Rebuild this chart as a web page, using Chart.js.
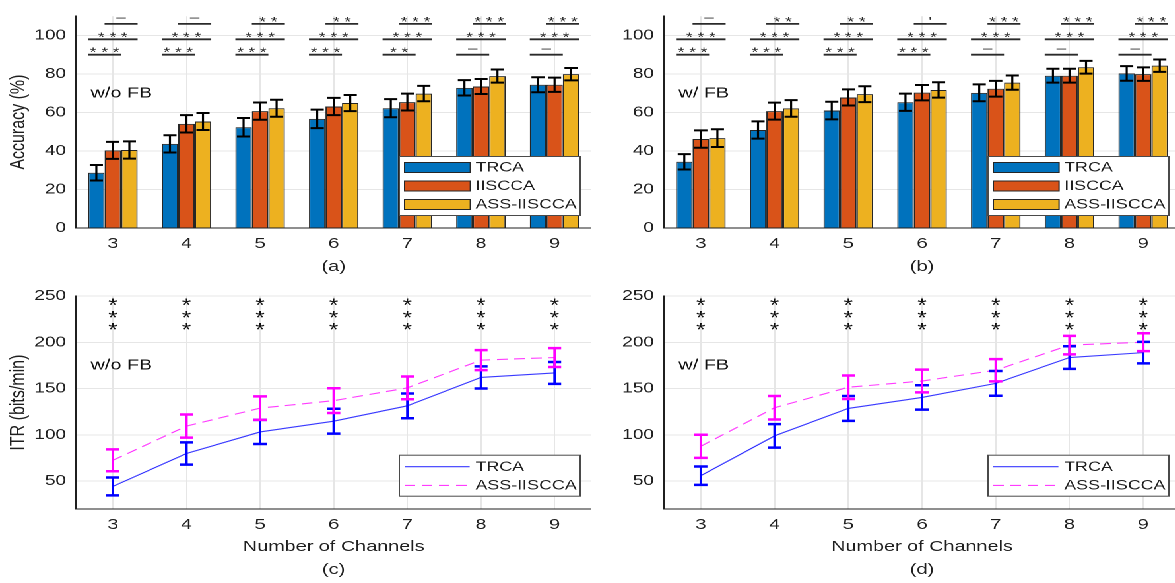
<!DOCTYPE html>
<html><head><meta charset="utf-8">
<script src="https://cdn.jsdelivr.net/npm/chart.js@4.4.1/dist/chart.umd.min.js"></script>
<style>
html,body{margin:0;padding:0;background:#fff;overflow:hidden;width:1175px;height:583px;}
#stage{position:absolute;left:0;top:0;width:900px;height:583px;transform:scaleX(1.32);transform-origin:0 0;}
canvas{position:absolute;display:block;}
</style></head><body>
<div id="stage">
  <canvas id="ca" width="448" height="280" style="left:0;top:0;width:448px;height:280px"></canvas>
  <canvas id="cb" width="446" height="280" style="left:448px;top:0;width:446px;height:280px"></canvas>
  <canvas id="cc" width="448" height="303" style="left:0;top:280px;width:448px;height:303px"></canvas>
  <canvas id="cd" width="446" height="303" style="left:448px;top:280px;width:446px;height:303px"></canvas>
</div>
<script>
// ---------------- data ----------------
const channels = ['3','4','5','6','7','8','9'];
const accTicks = [0,20,40,60,80,100];
const itrTicks = [50,100,150,200,250];

// (a) accuracy, w/o FB
const accTRCA_noFB   = [28.7, 43.7, 52.3, 56.7, 62.2, 72.8, 74.4];
const accIISCCA_noFB = [40.3, 54.1, 60.7, 63.1, 65.4, 73.5, 74.4];
const accASS_noFB    = [40.5, 55.3, 62.2, 64.9, 69.8, 78.9, 79.9];
const errTRCA_noFB   = [4.0, 4.5, 4.8, 4.8, 4.7, 4.0, 3.9];
const errIISCCA_noFB = [4.4, 4.5, 4.5, 4.5, 4.4, 3.9, 3.7];
const errASS_noFB    = [4.5, 4.4, 4.4, 4.2, 4.0, 3.4, 3.2];
const sigA_TRCA_IISCCA = ['***','***','***','***','**','–','–'];
const sigA_TRCA_ASS    = ['***','***','***','***','***','***','***'];
const sigA_IISCCA_ASS  = ['–','–','**','**','***','***','***'];

// (b) accuracy, w/ FB
const accTRCA_FB   = [34.4, 50.9, 61.0, 65.3, 70.2, 79.1, 80.3];
const accIISCCA_FB = [46.2, 60.7, 67.8, 70.3, 72.3, 79.1, 79.9];
const accASS_FB    = [46.7, 62.1, 69.5, 71.7, 75.5, 83.5, 84.3];
const errTRCA_FB   = [4.0, 4.5, 4.6, 4.5, 4.4, 3.6, 3.8];
const errIISCCA_FB = [4.5, 4.4, 4.2, 4.0, 4.1, 3.6, 3.5];
const errASS_FB    = [4.6, 4.3, 4.1, 4.0, 3.7, 3.3, 3.2];
const sigB_TRCA_IISCCA = ['***','***','***','***','–','–','–'];
const sigB_TRCA_ASS    = ['***','***','***','***','***','***','***'];
const sigB_IISCCA_ASS  = ['–','**','**',"'",'***','***','***'];

// (c) ITR, w/o FB
const itrTRCA_noFB    = [44.4, 80.0, 103.3, 114.9, 131.5, 162.2, 167.1];
const itrASS_noFB     = [72.6, 109.6, 129.0, 137.1, 150.9, 180.9, 183.7];
const itrErrTRCA_noFB = [9.7, 12.0, 13.0, 13.4, 13.4, 12.0, 11.8];
const itrErrASS_noFB  = [11.8, 12.5, 12.7, 13.4, 12.3, 10.8, 10.2];
const itrSig_noFB     = ['***','***','***','***','***','***','***'];

// (d) ITR, w/ FB
const itrTRCA_FB    = [56.0, 99.0, 128.7, 140.6, 155.8, 183.7, 189.0];
const itrASS_FB     = [87.8, 129.4, 151.6, 158.3, 170.0, 197.1, 200.3];
const itrErrTRCA_FB = [9.9, 12.7, 13.4, 13.2, 13.4, 12.2, 11.6];
const itrErrASS_FB  = [12.5, 12.7, 12.7, 12.3, 12.0, 10.0, 9.7];
const itrSig_FB     = ['***','***','***','***','***','***','***'];

// ---------------- style ----------------
const INK = '#1f1f1f';
const GRID = '#e6e6e6';
const colTRCA = '#0072BD', colIIS = '#D95319', colASS = '#EDB120';
Chart.defaults.font.family = "'Liberation Sans', Arial, Helvetica, sans-serif";
Chart.defaults.color = INK;

// ---------------- plugins ----------------
function errorBarPlugin(cap, stemW, capW) {
  return { id:'errorBars', afterDatasetsDraw(chart) {
    const ctx = chart.ctx, ys = chart.scales.y;
    chart.data.datasets.forEach((ds, i) => {
      if (!ds.errors) return;
      const meta = chart.getDatasetMeta(i);
      ctx.save();
      ctx.strokeStyle = ds.errorColor || '#000';
      meta.data.forEach((el, j) => {
        const v = ds.data[j], e = ds.errors[j];
        const x = el.x, yt = ys.getPixelForValue(v + e), yb = ys.getPixelForValue(v - e);
        ctx.lineWidth = stemW;
        ctx.beginPath(); ctx.moveTo(x, yt); ctx.lineTo(x, yb); ctx.stroke();
        ctx.lineWidth = capW;
        ctx.beginPath();
        ctx.moveTo(x - cap, yt); ctx.lineTo(x + cap, yt);
        ctx.moveTo(x - cap, yb); ctx.lineTo(x + cap, yb);
        ctx.stroke();
      });
      ctx.restore();
    });
  }};
}

function sigPlugin(rows) {
  return { id:'sig', afterDatasetsDraw(chart) {
    const ctx = chart.ctx, ys = chart.scales.y;
    ctx.save();
    rows.forEach(row => {
      const ma = chart.getDatasetMeta(row.from), mb = chart.getDatasetMeta(row.to);
      const py = ys.getPixelForValue(row.level);
      row.labels.forEach((lab, j) => {
        const a = ma.data[j], b = mb.data[j];
        const x1 = a.x - a.width / 2, x2 = b.x + b.width / 2;
        ctx.strokeStyle = '#2a2a2a'; ctx.lineWidth = 1.8;
        ctx.beginPath(); ctx.moveTo(x1, py); ctx.lineTo(x2, py); ctx.stroke();
        ctx.fillStyle = '#2a2a2a';
        ctx.font = "13px 'Liberation Sans', Arial, sans-serif";
        ctx.textAlign = 'center'; ctx.textBaseline = 'alphabetic';
        const txt = lab.split('').join(' ');
        const base = (lab === '–') ? py - 2.2 : py + 2;
        ctx.fillText(txt, (x1 + x2) / 2, base);
      });
    });
    ctx.restore();
  }};
}

function starPlugin(labels, levels) {
  return { id:'stars', afterDatasetsDraw(chart) {
    const ctx = chart.ctx, xs = chart.scales.x, ys = chart.scales.y;
    ctx.save();
    ctx.fillStyle = '#111';
    ctx.font = "18px 'Liberation Sans', Arial, sans-serif";
    ctx.textAlign = 'center'; ctx.textBaseline = 'alphabetic';
    labels.forEach((lab, j) => {
      const x = xs.getPixelForValue(j);
      lab.split('').forEach((ch, k) => {
        ctx.fillText(ch, x, ys.getPixelForValue(levels[k]) + 10.5);
      });
    });
    ctx.restore();
  }};
}

function tagPlugin(text, dx, value) {
  return { id:'tag', afterDatasetsDraw(chart) {
    const ctx = chart.ctx, a = chart.chartArea, ys = chart.scales.y;
    ctx.save();
    ctx.fillStyle = '#111';
    ctx.font = "15px 'Liberation Sans', Arial, sans-serif";
    ctx.textAlign = 'left'; ctx.textBaseline = 'middle';
    ctx.fillText(text, a.left + dx, ys.getPixelForValue(value));
    ctx.restore();
  }};
}

function boxLegendPlugin(o) {
  return { id:'boxLegend', afterDraw(chart) {
    const ctx = chart.ctx, a = chart.chartArea;
    const right = a.right - o.right, left = right - o.width;
    const bottom = a.bottom - o.bottom, top = bottom - o.height;
    ctx.save();
    ctx.fillStyle = '#fff';
    ctx.fillRect(left, top, o.width, o.height);
    ctx.strokeStyle = '#4a4a4a'; ctx.lineWidth = 1;
    ctx.strokeRect(left + 0.5, top + 0.5, o.width - 1, o.height - 1);
    chart.data.datasets.forEach((ds, i) => {
      const cy = top + o.rows[i];
      if (o.kind === 'bar') {
        ctx.fillStyle = ds.backgroundColor;
        ctx.fillRect(left + o.swX, cy - o.swH / 2, o.swW, o.swH);
        ctx.strokeStyle = ds.borderColor; ctx.lineWidth = 1;
        ctx.strokeRect(left + o.swX, cy - o.swH / 2, o.swW, o.swH);
      } else {
        ctx.strokeStyle = ds.borderColor; ctx.lineWidth = ds.borderWidth;
        ctx.setLineDash(ds.borderDash || []);
        ctx.beginPath(); ctx.moveTo(left + o.swX, cy); ctx.lineTo(left + o.swX + o.swW, cy); ctx.stroke();
        ctx.setLineDash([]);
      }
      ctx.fillStyle = INK;
      ctx.font = "13.5px 'Liberation Sans', Arial, sans-serif";
      ctx.textAlign = 'left'; ctx.textBaseline = 'middle';
      ctx.fillText(ds.label, left + o.textX, cy + 0.5);
    });
    ctx.restore();
  }};
}

// ---------------- scales ----------------
function xScale(title, height) {
  return {
    type:'category', offset:true,
    grid:{offset:false, color:GRID, lineWidth:1, drawTicks:false},
    border:{color:INK, width:1},
    ticks:{font:{size:15}, color:INK, padding:7, maxRotation:0, autoSkip:false},
    title:{display:true, text:title, font:{size:15, lineHeight:1.55}, color:INK, padding:{top:0, bottom:1.4}},
    afterFit(s){ s.height = height; }
  };
}
function yScale(min, max, tickVals, title, width) {
  return {
    min, max,
    grid:{color:GRID, lineWidth:1, drawTicks:false},
    border:{color:INK, width:1},
    ticks:{font:{size:14.5}, color:INK, padding:7.5},
    afterBuildTicks(s){ s.ticks = tickVals.map(v => ({value:v})); },
    title:{display:!!title, text:title || '', font:{size:16}, color:INK, padding:{top:4.6, bottom:0}},
    afterFit(s){ s.width = width; }
  };
}

const barLegend = {kind:'bar', width:138, height:60, right:8, bottom:12, rows:[11.5, 30, 48.5], swX:4.5, swW:49.8, swH:10, textX:58.3};
const lineLegend = {kind:'line', width:138, height:42, right:8, bottom:12.3, rows:[12, 30.7], swX:4.5, swW:49.3, textX:58.3};

// ---------------- charts ----------------
function barChart(id, yWidth, yTitle, xTitle, tag, trca, iis, ass, eT, eI, eA, s12, s13, s23) {
  const common = {borderColor:'#262626', borderWidth:1, categoryPercentage:0.673, barPercentage:1, errorColor:'#000'};
  return new Chart(document.getElementById(id), {
    type:'bar',
    data:{ labels:channels, datasets:[
      Object.assign({label:'TRCA', data:trca, errors:eT, backgroundColor:colTRCA}, common),
      Object.assign({label:'IISCCA', data:iis, errors:eI, backgroundColor:colIIS}, common),
      Object.assign({label:'ASS-IISCCA', data:ass, errors:eA, backgroundColor:colASS}, common)
    ]},
    options:{
      responsive:false, animation:false, devicePixelRatio:2,
      layout:{padding:{top:11, right:0, bottom:0, left:0}},
      plugins:{legend:{display:false}, tooltip:{enabled:false}},
      scales:{ x:xScale(xTitle, 52), y:yScale(0, 110, accTicks, yTitle, yWidth) }
    },
    plugins:[
      errorBarPlugin(5, 1.6, 2),
      sigPlugin([
        {from:0, to:1, level:90, labels:s12},
        {from:0, to:2, level:98, labels:s13},
        {from:1, to:2, level:106, labels:s23}
      ]),
      tagPlugin(tag, 11, 70),
      boxLegendPlugin(barLegend)
    ]
  });
}

function lineChart(id, yWidth, yTitle, xTitle, tag, trca, ass, eT, eA, sig) {
  return new Chart(document.getElementById(id), {
    type:'line',
    data:{ labels:channels, datasets:[
      {label:'TRCA', data:trca, errors:eT, errorColor:'#0000ff', borderColor:'#3a3aff', borderWidth:1.1, pointRadius:0, fill:false, tension:0},
      {label:'ASS-IISCCA', data:ass, errors:eA, errorColor:'#ff00ff', borderColor:'#ff3cff', borderWidth:1.1, borderDash:[8,5], pointRadius:0, fill:false, tension:0}
    ]},
    options:{
      responsive:false, animation:false, devicePixelRatio:2,
      layout:{padding:{top:11, right:0, bottom:0, left:0}},
      plugins:{legend:{display:false}, tooltip:{enabled:false}},
      scales:{ x:xScale(xTitle, 74), y:yScale(20, 250, itrTicks, yTitle, yWidth) }
    },
    plugins:[
      errorBarPlugin(5, 1.9, 2.5),
      starPlugin(sig, [244.7, 231.4, 218.2]),
      tagPlugin(tag, 11, 175),
      boxLegendPlugin(lineLegend)
    ]
  });
}

barChart('ca', 57.6, 'Accuracy (%)', '(a)', 'w/o FB',
  accTRCA_noFB, accIISCCA_noFB, accASS_noFB, errTRCA_noFB, errIISCCA_noFB, errASS_noFB,
  sigA_TRCA_IISCCA, sigA_TRCA_ASS, sigA_IISCCA_ASS);
barChart('cb', 55, '', '(b)', 'w/ FB',
  accTRCA_FB, accIISCCA_FB, accASS_FB, errTRCA_FB, errIISCCA_FB, errASS_FB,
  sigB_TRCA_IISCCA, sigB_TRCA_ASS, sigB_IISCCA_ASS);
lineChart('cc', 57.6, 'ITR (bits/min)', ['Number of Channels', '(c)'], 'w/o FB',
  itrTRCA_noFB, itrASS_noFB, itrErrTRCA_noFB, itrErrASS_noFB, itrSig_noFB);
lineChart('cd', 55, '', ['Number of Channels', '(d)'], 'w/ FB',
  itrTRCA_FB, itrASS_FB, itrErrTRCA_FB, itrErrASS_FB, itrSig_FB);
</script>
</body></html>
